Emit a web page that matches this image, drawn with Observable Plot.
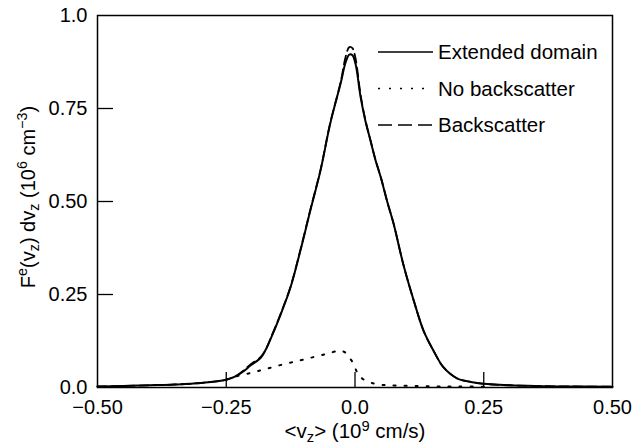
<!DOCTYPE html>
<html><head><meta charset="utf-8">
<script src="https://cdn.jsdelivr.net/npm/d3@7"></script>
<script src="https://cdn.jsdelivr.net/npm/@observablehq/plot@0.6"></script>
<style>
body{margin:0;background:#fff;}
#chart svg{font-family:"Liberation Sans",Arial,Helvetica,sans-serif;}
</style></head><body><div id="chart"></div>
<script>
// Extended domain (solid)
const extV = [-0.5,-0.45,-0.4,-0.35,-0.3,-0.25,-0.229,-0.216,-0.203,-0.183,-0.174,-0.164,-0.145,-0.125,-0.106,-0.086,-0.067,-0.048,-0.028,-0.018,-0.011,-0.005,0.001,0.011,0.02,0.03,0.04,0.05,0.0625,0.075,0.094,0.114,0.133,0.152,0.172,0.199,0.225,0.25,0.3,0.35,0.4,0.5];
const extF = [0.003,0.004,0.006,0.008,0.012,0.021,0.032,0.044,0.059,0.08,0.1,0.13,0.194,0.27,0.368,0.48,0.583,0.71,0.817,0.875,0.895,0.893,0.87,0.78,0.718,0.664,0.61,0.565,0.5,0.44,0.33,0.234,0.153,0.1,0.054,0.024,0.015,0.01,0.006,0.004,0.003,0.002];
// Backscatter (dashed)
const bsV = [-0.5,-0.45,-0.4,-0.35,-0.3,-0.25,-0.229,-0.216,-0.203,-0.183,-0.174,-0.164,-0.145,-0.125,-0.106,-0.086,-0.067,-0.048,-0.028,-0.018,-0.011,-0.005,0.001,0.011,0.02,0.03,0.04,0.05,0.0625,0.075,0.094,0.114,0.133,0.152,0.172,0.199,0.225,0.25,0.3,0.35,0.4,0.5];
const bsF = [0.003,0.004,0.006,0.008,0.012,0.021,0.033,0.046,0.062,0.082,0.1,0.132,0.196,0.272,0.37,0.482,0.585,0.712,0.82,0.89,0.915,0.912,0.885,0.785,0.72,0.665,0.611,0.566,0.5,0.44,0.33,0.234,0.153,0.1,0.054,0.024,0.015,0.01,0.006,0.004,0.003,0.002];
// No backscatter (dotted)
const nbV = [-0.25,-0.236,-0.2,-0.17,-0.14,-0.106,-0.08,-0.054,-0.035,-0.028,-0.02,-0.015,-0.008,-0.003,0.004,0.01,0.017,0.033,0.053,0.08,0.12,0.16,0.2,0.25];
const nbF = [0.021,0.028,0.04,0.051,0.062,0.073,0.082,0.091,0.098,0.099,0.095,0.086,0.075,0.064,0.041,0.03,0.021,0.012,0.007,0.005,0.004,0.003,0.003,0.002];

const xTicks = [-0.5,-0.25,0,0.25,0.5];
const xTickLabels = ["\u22120.50","\u22120.25","0.0","0.25","0.50"];
const yTicks = [0,0.25,0.5,0.75,1];
const yTickLabels = ["0.0","0.25","0.50","0.75","1.0"];
const xInnerTicks = [-0.25,0,0.25];
const yInnerTicks = [0.25,0.5,0.75];

const legendNames = ["Extended domain","No backscatter","Backscatter"];
const legendDash = [null,"2,9","14,6"];

const xLabelSegs = [["<v",""],["z","sub"],["> (10",""],["9","sup"],[" cm/s)",""]];
const yLabelSegs = [["F",""],["e","sup"],["(v",""],["z","sub"],[") dv",""],["z","sub"],[" (10",""],["6","sup"],[" cm",""],["\u22123","sup"],[")",""]];

const ext = extV.map((v,i)=>({v, F: extF[i]}));
const bs = bsV.map((v,i)=>({v, F: bsF[i]}));
const nb = nbV.map((v,i)=>({v, F: nbF[i]}));
const xMap = new Map(xTicks.map((d,i)=>[d,xTickLabels[i]]));
const yMap = new Map(yTicks.map((d,i)=>[d,yTickLabels[i]]));

const chart = Plot.plot({
  width: 641, height: 446,
  marginLeft: 97, marginRight: 29, marginTop: 15, marginBottom: 59,
  x: {domain: [-0.5, 0.5]},
  y: {domain: [0, 1]},
  style: {fontFamily: "Liberation Sans, Arial, sans-serif", fontSize: "20px", color: "black", background: "white"},
  marks: [
    Plot.line(nb, {x: "v", y: "F", stroke: "black", strokeWidth: 2, strokeDasharray: "2,9", curve: "catmull-rom"}),
    Plot.line(bs, {x: "v", y: "F", stroke: "black", strokeWidth: 1.8, strokeDasharray: "9,5", curve: "catmull-rom"}),
    Plot.line(ext, {x: "v", y: "F", stroke: "black", strokeWidth: 2, curve: "catmull-rom"}),
    Plot.frame({stroke: "black", strokeWidth: 1.5}),
    Plot.axisX({ticks: xTicks, tickSize: 0, tickPadding: 12, tickFormat: d => xMap.get(d), label: null, fontSize: 20, fontVariant: "normal"}),
    Plot.axisX({ticks: xInnerTicks, tickSize: -15, tickFormat: () => "", label: null, strokeWidth: 1.3}),
    Plot.axisY({ticks: yTicks, tickSize: 0, tickPadding: 10, tickFormat: d => yMap.get(d), label: null, fontSize: 20, fontVariant: "normal"}),
    Plot.axisY({ticks: yInnerTicks, tickSize: -16, tickFormat: () => "", label: null, strokeWidth: 1.3})
  ]
});
document.getElementById("chart").appendChild(chart);

const svg = d3.select(chart);
function richText(sel, segs, size, supShift, subShift) {
  const t = sel.append("text").attr("font-size", size).attr("text-anchor", "middle").attr("fill", "black");
  let cur = 0;
  for (const [s, k] of segs) {
    const target = k === "sub" ? size * subShift : k === "sup" ? -size * supShift : 0;
    t.append("tspan").attr("dy", target - cur).attr("font-size", k ? size * 0.72 : size).text(s);
    cur = target;
  }
  return t;
}
richText(svg.append("g").attr("transform", "translate(355,438)"), xLabelSegs, 20.5, 0.32, 0.18);
richText(svg.append("g").attr("transform", "translate(35,197) rotate(-90)"), yLabelSegs, 20, 0.42, 0.22);

const lg = svg.append("g");
legendNames.forEach((name, i) => {
  const y = 52 + i * 36.5;
  lg.append("line").attr("x1", 378).attr("x2", 433).attr("y1", y).attr("y2", y)
    .attr("stroke", "black").attr("stroke-width", 1.6)
    .attr("stroke-dasharray", legendDash[i]);
  lg.append("text").attr("x", 438).attr("y", y).attr("dy", "0.36em")
    .attr("text-anchor", "start")
    .attr("font-size", 20.5).attr("fill", "black").text(name);
});
</script></body></html>
